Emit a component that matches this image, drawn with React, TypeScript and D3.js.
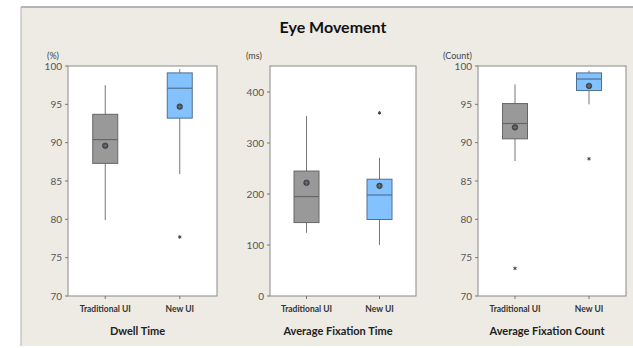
import * as d3 from "d3";

const groups = ["Traditional UI", "New UI"];
const boxColors = ["#999999", "#84c1ff"];
const boxStrokes = ["#666666", "#50708f"];

// [whiskerLow, q1, median, q3, whiskerHigh, mean]
const dwellStats = [
  [79.9, 87.3, 90.4, 93.7, 97.5, 89.6],
  [85.9, 93.2, 97.1, 99.1, 99.6, 94.7],
];
const dwellOutliers = [[], [77.7]];

const fixTimeStats = [
  [124, 144, 195, 245, 353, 222],
  [100, 150, 198, 229, 271, 216],
];
const fixTimeOutliers = [[], [359]];

const fixCountStats = [
  [87.6, 90.5, 92.5, 95.1, 97.6, 92.0],
  [95.0, 96.8, 98.3, 99.1, 99.4, 97.4],
];
const fixCountOutliers = [[73.6], [87.9]];

const panels = [
  {
    title: "Dwell Time",
    unit: "(%)",
    domain: [70, 100],
    ticks: [70, 75, 80, 85, 90, 95, 100],
    stats: dwellStats,
    outliers: dwellOutliers,
    x0: 68,
    x1: 217,
    unitX: 47,
  },
  {
    title: "Average Fixation Time",
    unit: "(ms)",
    domain: [0, 451],
    ticks: [0, 100, 200, 300, 400],
    stats: fixTimeStats,
    outliers: fixTimeOutliers,
    x0: 270,
    x1: 416,
    unitX: 246,
  },
  {
    title: "Average Fixation Count",
    unit: "(Count)",
    domain: [70, 100],
    ticks: [70, 75, 80, 85, 90, 95, 100],
    stats: fixCountStats,
    outliers: fixCountOutliers,
    x0: 478,
    x1: 626,
    unitX: 443,
  },
];

const font = "Lato, 'Open Sans', sans-serif";
const top = 66;
const bottom = 296;
const boxW = 25;

function Panel({ p }: { p: (typeof panels)[number] }) {
  const y = d3.scaleLinear().domain(p.domain).range([bottom, top]);
  const x = d3.scalePoint<string>().domain(groups).range([p.x0, p.x1]).padding(0.5);
  const star = d3.symbol().type(d3.symbolAsterisk).size(9)();
  const cx = (p.x0 + p.x1) / 2 - 5;
  return (
    <g>
      <rect x={p.x0} y={top} width={p.x1 - p.x0} height={bottom - top} fill="#fff" stroke="#8a8a8a" strokeWidth={1} />
      <text x={p.unitX} y={59} fontSize={9} fill="#444" fontFamily={font}>
        {p.unit}
      </text>
      {p.ticks.map((t) => (
        <g key={t}>
          <line x1={p.x0 - 3} x2={p.x0} y1={y(t)} y2={y(t)} stroke="#777" />
          <text x={p.x0 - 6} y={y(t) + 3.5} fontSize={10} fill="#555" textAnchor="end" fontFamily={font}>
            {t}
          </text>
        </g>
      ))}
      {groups.map((g, i) => {
        const [lo, q1, med, q3, hi, mean] = p.stats[i];
        const gx = x(g) as number;
        return (
          <g key={g}>
            <line x1={gx} x2={gx} y1={bottom} y2={bottom + 3} stroke="#777" />
            <line x1={gx} x2={gx} y1={y(hi)} y2={y(q3)} stroke="#777" />
            <line x1={gx} x2={gx} y1={y(q1)} y2={y(lo)} stroke="#777" />
            <rect
              x={gx - boxW / 2}
              y={y(q3)}
              width={boxW}
              height={y(q1) - y(q3)}
              fill={boxColors[i]}
              stroke={boxStrokes[i]}
            />
            <line x1={gx - boxW / 2} x2={gx + boxW / 2} y1={y(med)} y2={y(med)} stroke={boxStrokes[i]} strokeWidth={1.2} />
            <circle cx={gx} cy={y(mean)} r={2.8} fill="#454d55" stroke="#333" strokeWidth={0.6} />
            <line x1={gx - 2} x2={gx + 2} y1={y(mean)} y2={y(mean)} stroke="#7f858b" strokeWidth={0.6} />
            <line x1={gx} x2={gx} y1={y(mean) - 2} y2={y(mean) + 2} stroke="#7f858b" strokeWidth={0.6} />
            {p.outliers[i].map((o, k) => (
              <path key={k} d={star ?? ""} transform={`translate(${gx},${y(o)})`} stroke="#444" strokeWidth={1} fill="none" />
            ))}
            <text x={gx} y={312} fontSize={8.5} fontWeight="bold" fill="#333" textAnchor="middle" fontFamily={font}>
              {g}
            </text>
          </g>
        );
      })}
      <text x={cx} y={335} fontSize={11} fontWeight="bold" fill="#222" textAnchor="middle" fontFamily={font}>
        {p.title}
      </text>
    </g>
  );
}

export default function App() {
  return (
    <svg
      width={633}
      height={348}
      style={{ position: "absolute", left: 0, top: 0, background: "#fff" }}
    >
      <rect x={21} y={7} width={612} height={339} fill="#eeebe5" />
      <line x1={21} x2={633} y1={7} y2={7} stroke="#a0a0a0" strokeWidth={1.5} />
      <line x1={21} x2={21} y1={7} y2={346} stroke="#b0b0b0" strokeWidth={1} />
      <text x={333} y={33} fontSize={16} fontWeight="bold" fill="#111" textAnchor="middle" fontFamily={font}>
        Eye Movement
      </text>
      {panels.map((p) => (
        <Panel key={p.title} p={p} />
      ))}
    </svg>
  );
}
